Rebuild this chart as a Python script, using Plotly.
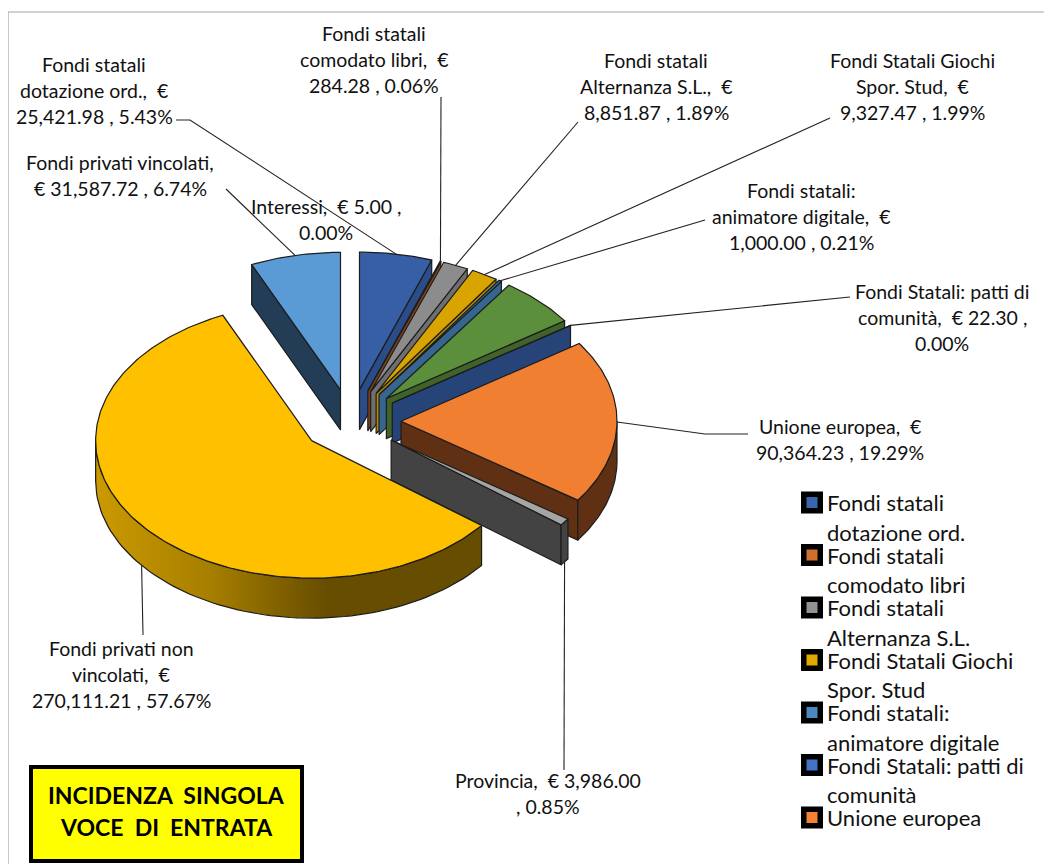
import numpy as np
import plotly.graph_objects as go

CATEGORIES = [
    "Fondi statali dotazione ord.",
    "Fondi statali comodato libri",
    "Fondi statali Alternanza S.L.",
    "Fondi Statali Giochi Spor. Stud",
    "Fondi statali: animatore digitale",
    "Altri fondi",
    "Fondi Statali: patti di comunità",
    "Unione europea",
    "Provincia",
    "Fondi privati non vincolati",
    "Interessi",
    "Fondi privati vincolati",
]
VALUES = [
    25421.98, 284.28, 8851.87, 9327.47, 1000.00, 27450.00,
    22.30, 90364.23, 3986.00, 270111.21, 5.00, 31587.72,
]
TOP_COLORS = [
    "#365fa6", "#c0672b", "#8c8c8c", "#d9a400", "#3a6f9c", "#5b8f3c",
    "#3e67b0", "#f07f32", "#a5a5a5", "#ffc000", "#4472c4", "#5b9bd5",
]
WALL_COLORS = [
    "#2a4c88", "#7a4018", "#6f6f6f", "#b58900", "#36668f", "#3f6328",
    "#264478", "#5f3014", "#434343", "#6b5000", "#264478", "#223d55",
]

LEGEND_LINES = [
    ["Fondi statali", "dotazione ord."],
    ["Fondi statali", "comodato libri"],
    ["Fondi statali", "Alternanza S.L."],
    ["Fondi Statali Giochi", "Spor. Stud"],
    ["Fondi statali:", "animatore digitale"],
    ["Fondi Statali: patti di", "comunità"],
    ["Unione europea"],
]
LEGEND_COLORS = ["#3a64ad", "#d0702f", "#929292", "#e0aa00", "#4e87bd", "#4472c4", "#f58233"]

LABEL_LINES = {
    "Fondi statali dotazione ord.": ["Fondi statali", "dotazione ord.,  €", "25,421.98 , 5.43%"],
    "Fondi statali comodato libri": ["Fondi statali", "comodato libri,  €", "284.28 , 0.06%"],
    "Fondi statali Alternanza S.L.": ["Fondi statali", "Alternanza S.L.,  €", "8,851.87 , 1.89%"],
    "Fondi Statali Giochi Spor. Stud": ["Fondi Statali Giochi", "Spor. Stud,  €", "9,327.47 , 1.99%"],
    "Fondi statali: animatore digitale": ["Fondi statali:", "animatore digitale,  €", "1,000.00 , 0.21%"],
    "Fondi Statali: patti di comunità": ["Fondi Statali: patti di", "comunità,  € 22.30 ,", "0.00%"],
    "Unione europea": ["Unione europea,  €", "90,364.23 , 19.29%"],
    "Provincia": ["Provincia,  € 3,986.00", ", 0.85%"],
    "Fondi privati non vincolati": ["Fondi privati non", "vincolati,  €", "270,111.21 , 57.67%"],
    "Interessi": ["Interessi,  € 5.00 ,", "0.00%"],
    "Fondi privati vincolati": ["Fondi privati vincolati,", "€ 31,587.72 , 6.74%"],
}

# label centre x, first line y
LABEL_POS = {
    "Fondi statali dotazione ord.": (94, 64),
    "Fondi statali comodato libri": (374, 33),
    "Fondi statali Alternanza S.L.": (656, 60),
    "Fondi Statali Giochi Spor. Stud": (912, 60),
    "Fondi statali: animatore digitale": (801, 190),
    "Fondi Statali: patti di comunità": (942, 291),
    "Unione europea": (840, 426),
    "Provincia": (548, 780),
    "Fondi privati non vincolati": (121, 648),
    "Interessi": (326, 206),
    "Fondi privati vincolati": (120, 162),
}
LINE_GAP = 26

# leader line start points, the slice end is worked out from the geometry
LEADER_START = {
    "Fondi statali dotazione ord.": [(176, 120), (190, 120)],
    "Fondi statali comodato libri": [(441, 97)],
    "Fondi statali Alternanza S.L.": [(578, 122)],
    "Fondi Statali Giochi Spor. Stud": [(830, 118)],
    "Fondi statali: animatore digitale": [(705, 220)],
    "Fondi Statali: patti di comunità": [(850, 297)],
    "Unione europea": [(748, 434), (705, 434)],
    "Provincia": [(564, 770)],
    "Fondi privati non vincolati": [(143, 635)],
    "Fondi privati vincolati": [(226, 189)],
}

# pie geometry in page pixels
CX, CY = 351, 421
RX, RY = 216, 137.5
EXPLODE = 50
DEPTH = 40
OUTLINE = dict(color="#1c1c1c", width=1.2)


def to_xy(angle, radius_x=RX, radius_y=RY):
    """Clockwise angle from the top to an offset on the tilted ellipse."""
    return radius_x * np.sin(angle), -radius_y * np.cos(angle)


def poly(fig, xs, ys, color):
    fig.add_trace(go.Scatter(
        x=xs, y=ys, mode="lines", fill="toself", fillcolor=color, line=OUTLINE,
        hoverinfo="skip", showlegend=False,
    ))


def draw_slice(fig, start, end, top, wall):
    mid = (start + end) / 2
    ox, oy = to_xy(mid, EXPLODE, EXPLODE * RY / RX)
    ax, ay = CX + ox, CY + oy

    arc = np.linspace(start, end, max(int((end - start) * 60), 2))
    ex, ey = to_xy(arc)
    ex, ey = ax + ex, ay + ey

    # radial side walls
    for angle, visible in ((end, np.sin(end) > 0), (start, np.sin(start) < 0)):
        if visible:
            dx, dy = to_xy(angle)
            poly(fig, [ax, ax + dx, ax + dx, ax, ax],
                 [ay, ay + dy, ay + dy + DEPTH, ay + DEPTH, ay], wall)

    # curved outer wall, only the near half of the rim shows
    low, high = max(start, np.pi / 2), min(end, 3 * np.pi / 2)
    if high > low:
        rim = np.linspace(low, high, 80)
        rx, ry = to_xy(rim)
        xs = np.r_[ax + rx, (ax + rx)[::-1], ax + rx[0]]
        ys = np.r_[ay + ry, (ay + ry)[::-1] + DEPTH, ay + ry[0]]
        if top == "#ffc000":
            # the big slice has a shaded rim
            fig.add_trace(go.Scatter(
                x=xs, y=ys, mode="lines", fill="toself", line=OUTLINE,
                fillgradient=dict(type="horizontal", colorscale=[
                    [0, "#cc9a00"], [0.3, "#a67e00"], [0.6, "#664d00"], [1, "#664d00"]]),
                hoverinfo="skip", showlegend=False,
            ))
        else:
            poly(fig, xs, ys, wall)

    poly(fig, np.r_[ax, ex, ax], np.r_[ay, ey, ay], top)


fig = go.Figure()

shares = np.array(VALUES) / sum(VALUES)
ends = np.cumsum(shares) * 2 * np.pi
starts = ends - shares * 2 * np.pi
mids = (starts + ends) / 2

# back to front so nearer slices cover the ones behind
for i in np.argsort(-np.cos(mids)):
    if VALUES[i] < 10:
        continue
    draw_slice(fig, starts[i], ends[i], TOP_COLORS[i], WALL_COLORS[i])

# leader lines
for i, name in enumerate(CATEGORIES):
    if name not in LEADER_START:
        continue
    ox, oy = to_xy(mids[i], EXPLODE, EXPLODE * RY / RX)
    dx, dy = to_xy(mids[i])
    end_y = CY + oy + dy + (DEPTH if np.cos(mids[i]) < -0.3 else 0)
    pts = LEADER_START[name] + [(CX + ox + dx, end_y)]
    fig.add_trace(go.Scatter(
        x=[p[0] for p in pts], y=[p[1] for p in pts], mode="lines",
        line=dict(color="#222222", width=1.1), hoverinfo="skip", showlegend=False,
    ))

# legend drawn by hand, its line spacing is not what plotly's legend gives
LEGEND_TOP, LEGEND_STEP, LEGEND_LINE = 502.5, 52.5, 29.5
LEGEND_X, LEGEND_TEXT_X = 812, 825
fig.add_trace(go.Scatter(
    x=[LEGEND_X] * len(LEGEND_LINES),
    y=[LEGEND_TOP + i * LEGEND_STEP for i in range(len(LEGEND_LINES))],
    mode="markers", hoverinfo="skip", showlegend=False,
    marker=dict(symbol="square", size=16.5, color=LEGEND_COLORS, line=dict(color="#000000", width=5.5)),
))
for i, lines in enumerate(LEGEND_LINES):
    for k, line in enumerate(lines):
        fig.add_annotation(
            x=LEGEND_TEXT_X, y=LEGEND_TOP + i * LEGEND_STEP + k * LEGEND_LINE, text=line,
            showarrow=False, xanchor="left", yanchor="middle",
            font=dict(family="Lato", size=22, color="#111111"),
        )

for name, lines in LABEL_LINES.items():
    x0, y0 = LABEL_POS[name]
    for k, line in enumerate(lines):
        fig.add_annotation(
            x=x0, y=y0 + k * LINE_GAP, text=line.replace("  ", "\u00a0\u00a0"),
            showarrow=False, xanchor="center", yanchor="middle",
            font=dict(family="Lato", size=19.5, color="#111111"),
        )

# yellow box
fig.add_shape(type="rect", x0=31, y0=767, x1=302, y1=861, fillcolor="#ffff00",
              line=dict(color="#000000", width=4), layer="above")
for text, y in (("INCIDENZA\u00a0\u00a0SINGOLA", 795), ("VOCE\u00a0\u00a0DI\u00a0\u00a0ENTRATA", 827)):
    fig.add_annotation(
        x=166.5, y=y, text=text, showarrow=False, xanchor="center", yanchor="middle",
        font=dict(family="Lato", size=23, color="#000000", weight="bold"),
    )

fig.add_shape(type="rect", x0=8, y0=12, x1=1100, y1=900, line=dict(color="#a6a6a6", width=1.2),
              layer="below")

fig.update_xaxes(range=[8, 1052], visible=False, fixedrange=True)
fig.update_yaxes(range=[864, 8], visible=False, fixedrange=True)
fig.update_layout(
    width=1044, height=856,
    margin=dict(l=0, r=0, t=0, b=0),
    plot_bgcolor="#ffffff", paper_bgcolor="#ffffff",
    showlegend=False,
)

fig.write_html("out.html")
